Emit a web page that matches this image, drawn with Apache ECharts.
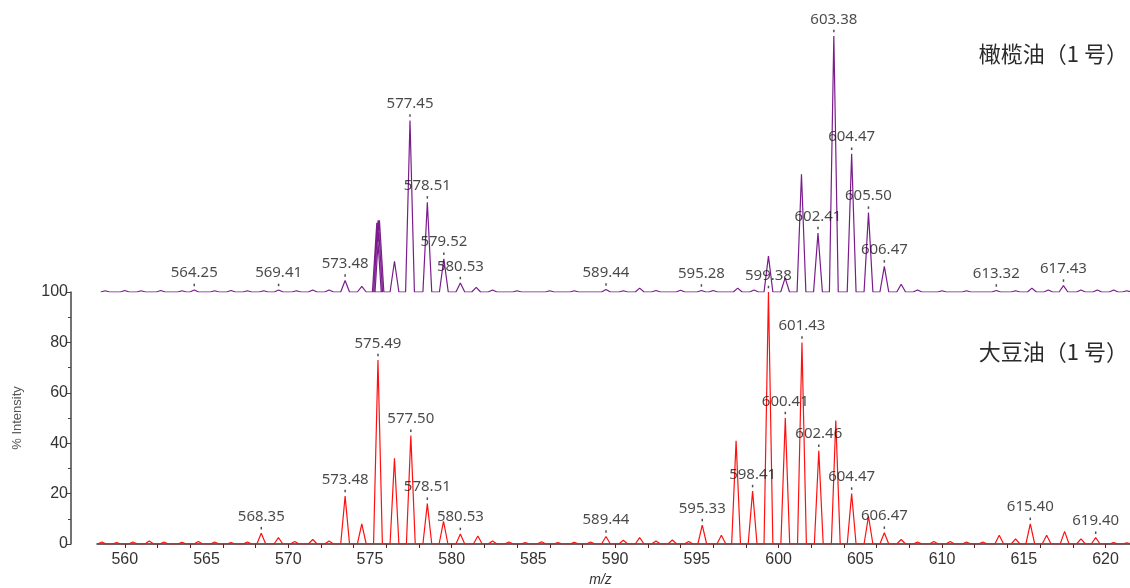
<!DOCTYPE html>
<html><head><meta charset="utf-8">
<script src="https://cdn.jsdelivr.net/npm/echarts@6/dist/echarts.min.js"></script>
<style>html,body{margin:0;padding:0;background:#fff}#c{width:1130px;height:588px}</style>
</head><body><div id="c"></div>
<script>
// ---- data (m/z, % intensity) ----
const olivePeaks = [
 [558.8,0.5],[560.0,0.6],[561.0,0.5],[562.2,0.6],[563.5,0.5],[564.25,0.8],[565.5,0.5],[566.5,0.6],[567.5,0.5],[568.5,0.5],
 [569.41,0.8],[570.5,0.5],[571.5,0.8],[572.5,0.8],[573.48,4.5],[574.5,2.2],[575.42,27],[575.5,28],[575.58,28],[576.5,12],
 [577.45,67],[578.51,35],[579.52,13],[580.53,3.5],[581.5,1.8],[582.5,0.8],[584.0,0.5],[586.0,0.5],[587.5,0.5],[589.44,1.0],
 [590.5,0.5],[591.5,1.5],[592.5,0.6],[594.0,0.7],[595.28,0.6],[596.0,0.6],[597.5,1.5],[598.5,0.8],[599.38,14],[600.4,5.5],
 [601.4,46],[602.41,23],[603.38,100],[604.47,54],[605.50,31],[606.47,10],[607.5,3],[608.5,0.8],[610.0,0.5],[611.5,0.5],
 [613.32,0.6],[614.5,0.5],[615.5,1.5],[616.5,0.8],[617.43,2.5],[618.5,0.8],[619.5,0.8],[620.5,0.8],[621.3,0.5]
];
const soyPeaks = [
 [558.6,0.8],[559.5,0.6],[560.5,0.8],[561.5,1.2],[562.4,0.8],[563.5,0.7],[564.5,1.0],[565.5,0.8],[566.5,0.6],[567.5,0.8],
 [568.35,4.3],[569.4,2.5],[570.4,1.0],[571.5,1.8],[572.5,1.2],[573.48,19],[574.5,8],[575.49,73],[576.5,34],[577.50,43],
 [578.51,16],[579.5,9],[580.53,4],[581.6,3.2],[582.5,1.2],[583.5,0.8],[584.5,0.6],[585.5,0.9],[586.5,0.6],[587.5,0.7],
 [588.5,0.8],[589.44,3],[590.5,1.5],[591.5,2.5],[592.5,1.2],[593.5,1.6],[594.5,1.0],[595.33,7.5],[596.5,3.5],[597.4,41],
 [598.41,21],[599.38,100],[600.41,50],[601.43,80],[602.46,37],[603.5,49],[604.47,20],[605.5,11],[606.47,4.5],[607.5,1.8],
 [608.5,0.8],[609.5,1.0],[610.5,1.0],[611.5,0.8],[612.5,0.8],[613.5,3.5],[614.5,2.0],[615.40,8],[616.4,3.5],[617.5,5],
 [618.5,2],[619.40,2.5],[620.5,0.6],[621.3,0.5]
];
const oliveLabels = ['564.25','569.41','573.48','577.45','578.51','579.52','580.53','589.44','595.28','602.41','603.38','604.47','605.50','606.47','613.32','617.43'];
const soyLabels = ['568.35','573.48','575.49','577.50','578.51','580.53','589.44','595.33','598.41','599.38','600.41','601.43','602.46','604.47','606.47','615.40','619.40'];
const xLabelValues = [560,565,570,575,580,585,590,595,600,605,610,615,620];
const xTickValues = [558,560,562,564,566,568,570,572,574,576,578,580,582,584,586,588,590,592,594,596,598,600,602,604,606,608,610,612,614,616,618,620];
const oliveTitle = '橄榄油（1 号）';
const soyTitle = '大豆油（1 号）';

// ---- build tables ----
const HW = 0.27;
function profile(peaks){const o=[];peaks.forEach(([m,h])=>{o.push([m-HW,0],[m,h],[m+HW,0]);});return o;}
function labelData(labels,peaks){return labels.map(s=>{const v=parseFloat(s);const p=peaks.find(q=>Math.abs(q[0]-v)<1e-6);return {name:s,value:[v,p?p[1]:0]};});}

const XMIN=558.3, XMAX=621.5;
const labelStyle = {show:true,position:'top',distance:3,formatter:'{b}',color:'#1a1a1a',fontFamily:'Noto Sans',fontSize:15};
const chart = echarts.init(document.getElementById('c'),null,{renderer:'canvas'});
chart.setOption({
  animation:false,
  grid:[{left:97,right:0,top:36,height:256},{left:97,right:0,top:292,height:254}],
  xAxis:[
    {gridIndex:0,type:'value',min:XMIN,max:XMAX,show:false},
    {gridIndex:1,type:'value',min:XMIN,max:XMAX,
     axisLine:{show:true,lineStyle:{color:'#333',width:1.5}},
     axisTick:{show:true,length:4,customValues:xTickValues,lineStyle:{color:'#333'}},
     axisLabel:{customValues:xLabelValues,color:'#333',fontFamily:'Liberation Sans Narrow, Liberation Sans',fontSize:16,margin:8},
     splitLine:{show:false},
     name:'m/z',nameLocation:'middle',nameGap:29,
     nameTextStyle:{fontStyle:'italic',color:'#333',fontFamily:'Liberation Sans',fontSize:14,padding:[0,26,0,0]}}
  ],
  yAxis:[
    {gridIndex:0,type:'value',min:0,max:100,show:false},
    {gridIndex:1,type:'value',min:0,max:100,interval:20,offset:26,
     axisLine:{show:true,lineStyle:{color:'#444',width:1.5}},
     axisTick:{show:true,length:5,lineStyle:{color:'#444'}},
     minorTick:{show:true,splitNumber:2,length:3,lineStyle:{color:'#444'}},
     axisLabel:{color:'#333',fontFamily:'Liberation Sans Narrow, Liberation Sans',fontSize:16,margin:3},
     splitLine:{show:false},
     name:'% Intensity',nameLocation:'middle',nameGap:47,nameRotate:90,
     nameTextStyle:{color:'#555',fontFamily:'Liberation Sans',fontSize:13}}
  ],
  series:[
    {type:'line',xAxisIndex:1,yAxisIndex:1,data:profile(soyPeaks),showSymbol:false,
     lineStyle:{color:'#ff1010',width:1.2},z:3},
    {type:'line',xAxisIndex:0,yAxisIndex:0,data:profile(olivePeaks),showSymbol:false,
     lineStyle:{color:'#7a1c8c',width:1.2},z:4},
    {type:'scatter',xAxisIndex:1,yAxisIndex:1,data:labelData(soyLabels,soyPeaks),symbol:'rect',symbolSize:[1.5,2.5],
     symbolOffset:[0,-5],itemStyle:{color:'#222'},label:labelStyle,clip:false,z:5},
    {type:'scatter',xAxisIndex:0,yAxisIndex:0,data:labelData(oliveLabels,olivePeaks),symbol:'rect',symbolSize:[1.5,2.5],
     symbolOffset:[0,-5],itemStyle:{color:'#222'},label:labelStyle,clip:false,z:5}
  ],
  graphic:[
    {type:'text',right:2,top:43,style:{text:oliveTitle,fill:'#2b2b2b',font:'22px "Noto Sans CJK SC"'}},
    {type:'text',right:2,top:341,style:{text:soyTitle,fill:'#2b2b2b',font:'22px "Noto Sans CJK SC"'}}
  ]
});
</script></body></html>
